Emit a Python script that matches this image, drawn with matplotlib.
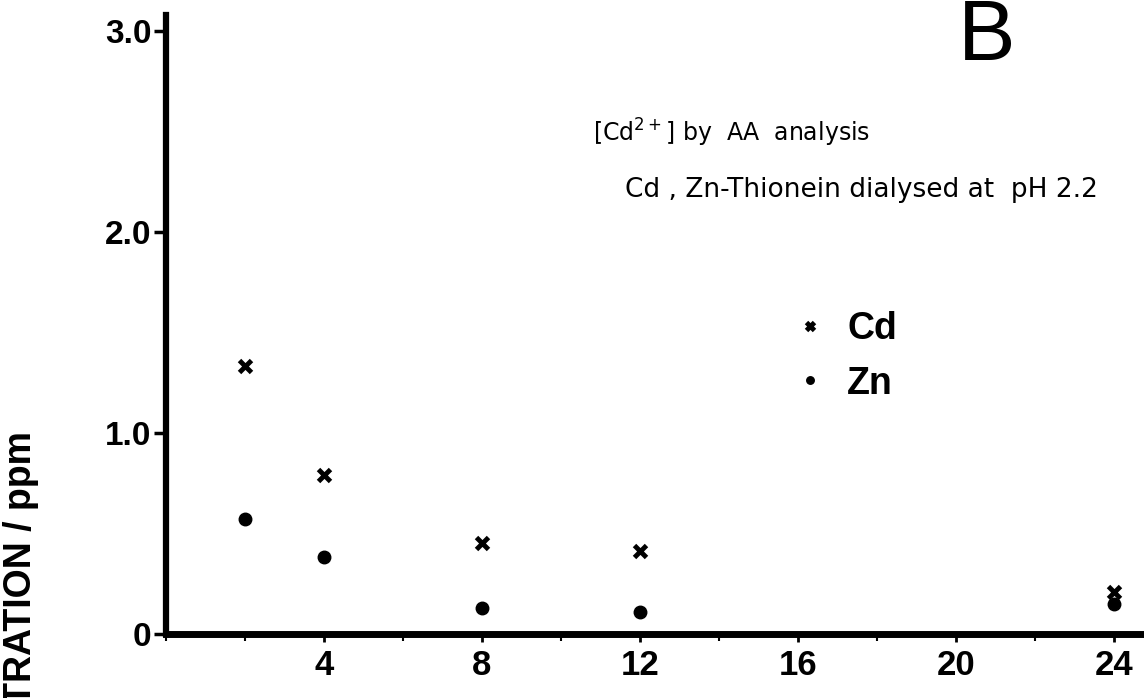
import matplotlib

matplotlib.use('Agg')
import matplotlib.pyplot as plt
from matplotlib.ticker import MultipleLocator

plt.rcParams['font.family'] = ['Liberation Sans', 'DejaVu Sans']

# dialysis time (h) and metal concentration (ppm)
hours = [2, 4, 8, 12, 24]
cd_ppm = [1.33, 0.79, 0.45, 0.41, 0.21]
zn_ppm = [0.57, 0.38, 0.13, 0.11, 0.15]

y_ticks = [0, 1.0, 2.0, 3.0]
y_labels = ['0', '1.0', '2.0', '3.0']
x_ticks = [4, 8, 12, 16, 20, 24]

fig = plt.figure(figsize=(11.44, 6.98), dpi=100)
ax = fig.add_axes([0.145, 0.092, 0.855, 0.887])

ax.plot(hours, cd_ppm, linestyle='none', marker='x', markersize=9,
        markeredgewidth=3.5, color='black', label='Cd')
ax.plot(hours, zn_ppm, linestyle='none', marker='o', markersize=9,
        color='black', label='Zn')

ax.set_xlim(0, 24.75)
ax.set_ylim(0, 3.08)

for side in ('top', 'right'):
    ax.spines[side].set_visible(False)
ax.spines['left'].set_linewidth(4.5)
ax.spines['bottom'].set_linewidth(5)

ax.set_yticks(y_ticks)
ax.set_yticklabels(y_labels)
ax.set_xticks(x_ticks)
ax.xaxis.set_minor_locator(MultipleLocator(2))
ax.tick_params(axis='y', length=9, width=2.5, pad=1.5, labelsize=24)
ax.tick_params(axis='x', which='major', length=6, width=2, pad=5, labelsize=25)
ax.tick_params(axis='x', which='minor', length=5, width=1.5)
for lab in ax.get_xticklabels() + ax.get_yticklabels():
    lab.set_fontweight('bold')

ax.legend(loc='upper left', bbox_to_anchor=(0.662, 0.603), bbox_transform=fig.transFigure,
          frameon=False, markerscale=0.6, handlelength=1.0, handletextpad=0.5,
          labelspacing=0.5, prop={'size': 27, 'weight': 'bold'})

fig.text(0.862, 0.945, 'B', fontsize=62, ha='center', va='center')
fig.text(0.518, 0.81, r'[Cd$^{2+}$] by  AA  analysis', fontsize=17, ha='left', va='center',
         family='DejaVu Sans')
fig.text(0.546, 0.728, 'Cd , Zn-Thionein dialysed at  pH 2.2', fontsize=19,
         ha='left', va='center', family='DejaVu Sans')

fig.text(0.018, 0.382, 'CONCENTRATION / ppm', rotation=90, fontsize=27,
         fontweight='bold', ha='center', va='top')

fig.savefig('out.png', dpi=100)
